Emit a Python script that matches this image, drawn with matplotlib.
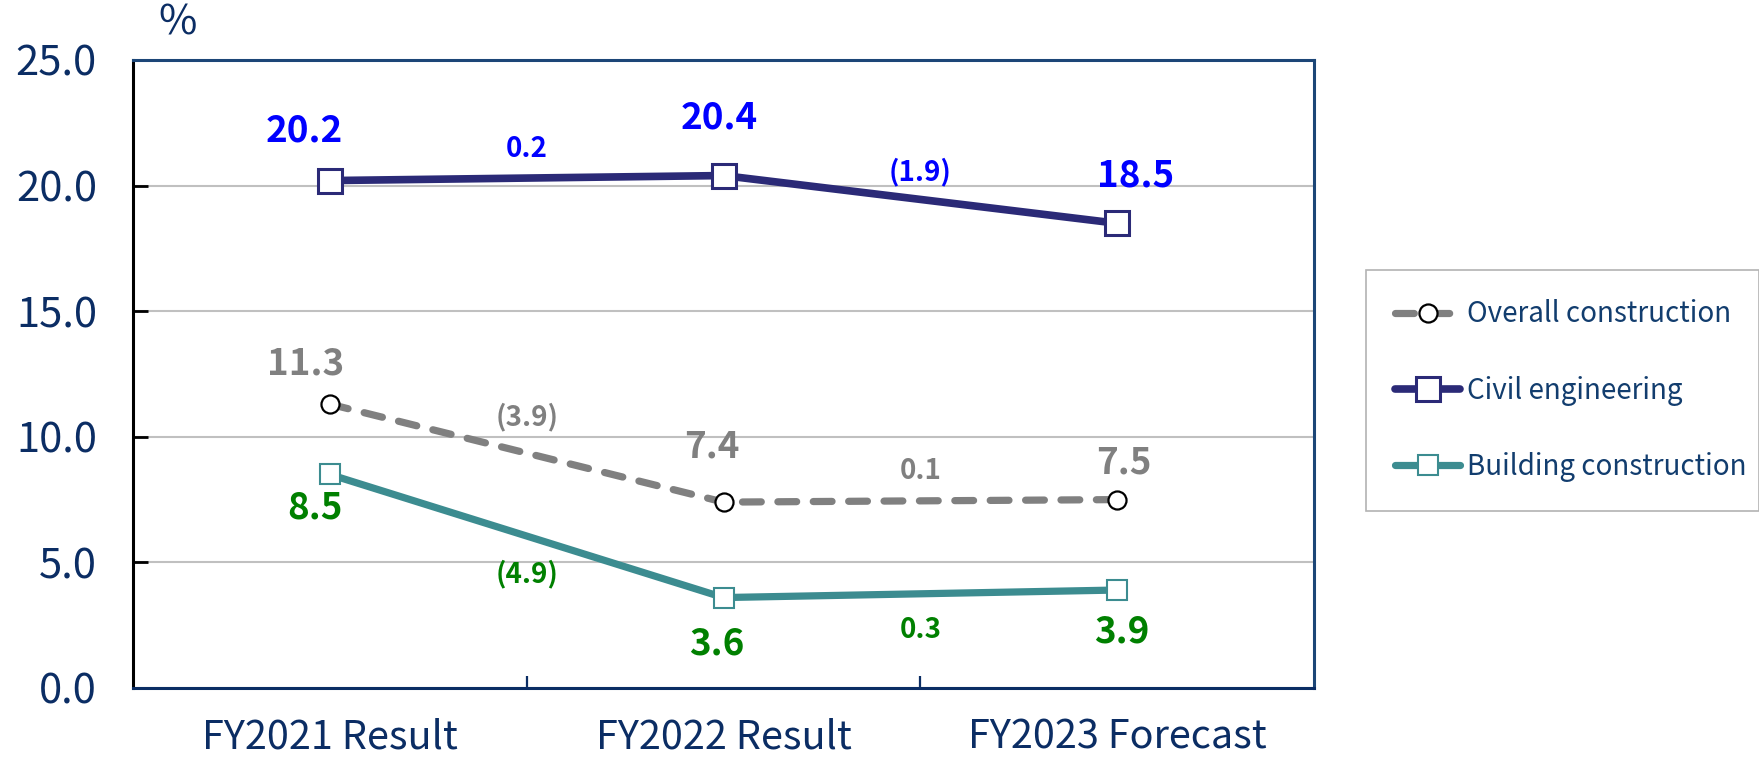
import matplotlib
matplotlib.use("Agg")
import matplotlib.pyplot as plt

plt.rcParams['font.family'] = ['Noto Sans CJK JP', 'DejaVu Sans']

categories = ["FY2021 Result", "FY2022 Result", "FY2023 Forecast"]
overall = [11.3, 7.4, 7.5]
civil = [20.2, 20.4, 18.5]
building = [8.5, 3.6, 3.9]
overall_delta = ["(3.9)", "0.1"]
civil_delta = ["0.2", "(1.9)"]
building_delta = ["(4.9)", "0.3"]
yticks = [0, 5, 10, 15, 20, 25]

NAVY_TXT = "#0b2d64"
CIVIL = "#2b2a77"
GRAY = "#808080"
TEAL = "#3c8c90"

fig = plt.figure(figsize=(17.59, 7.57), dpi=100)
ax = fig.add_axes([133/1759, 1-688/757, (1314-133)/1759, (688-60)/757])

x = [i + 0.5 for i in range(len(categories))]

ax.plot(x, overall, color=GRAY, lw=5.2, dashes=(2.6, 2.3), dash_capstyle='round',
        marker='o', ms=13, mfc='white', mec='black', mew=1.6, zorder=3,
        label="Overall construction")
ax.plot(x, civil, color=CIVIL, lw=5.5, solid_capstyle='round',
        marker='s', ms=17, mfc='white', mec=CIVIL, mew=2.2, zorder=4,
        label="Civil engineering")
ax.plot(x, building, color=TEAL, lw=5.2, solid_capstyle='round',
        marker='s', ms=14, mfc='white', mec=TEAL, mew=1.5, zorder=4,
        label="Building construction")

ax.set_xlim(0, 3)
ax.set_ylim(0, 25)
ax.set_yticks(yticks)
ax.set_yticklabels([f"{v:.1f}" for v in yticks])
ax.set_xticks(x)
ax.set_xticklabels(categories)
ax.set_xticks([1, 2], minor=True)
ax.tick_params(axis='x', which='major', length=0, pad=21, labelsize=28.5, labelcolor=NAVY_TXT)
ax.tick_params(axis='x', which='minor', direction='in', length=9, width=1.6, color=NAVY_TXT)
ax.tick_params(axis='y', direction='in', length=11, width=2, color='black',
               labelsize=30, labelcolor=NAVY_TXT, pad=26)
ax.grid(axis='y', color='#c0c0c0', lw=1.5, zorder=0)
ax.set_axisbelow(True)

ax.spines['left'].set_color('black')
ax.spines['left'].set_linewidth(2.2)
ax.spines['bottom'].set_color('#0b2d64')
ax.spines['bottom'].set_linewidth(2.2)
for s in ['top', 'right']:
    ax.spines[s].set_color('#1c4677')
    ax.spines[s].set_linewidth(2.2)

fig.text(178/1759, 1-23/757, "%", ha='center', va='center', fontsize=30, color=NAVY_TXT)

def vlabels(vals, offs, color):
    for xi, v, (dx, dy) in zip(x, vals, offs):
        ax.annotate(f"{v:.1f}", (xi, v), xytext=(dx, -dy), textcoords='offset pixels',
                    ha='center', va='center', fontsize=26.5, fontweight='bold', color=color,
                    zorder=6)

vlabels(civil, [(-26, -50), (-4, -58), (18, -47)], '#0000ff')
vlabels(overall, [(-24, -40), (-12, -55), (7, -37)], GRAY)
vlabels(building, [(-15, 34), (-7, 46), (5, 42)], '#008000')

def dlabels(vals, labels, offs, color):
    for i, (lab, dy) in enumerate(zip(labels, offs)):
        xm = (x[i] + x[i+1]) / 2
        ym = (vals[i] + vals[i+1]) / 2
        ax.annotate(lab, (xm, ym), xytext=(0, -dy), textcoords='offset pixels',
                    ha='center', va='center', fontsize=20, fontweight='bold', color=color,
                    zorder=6)

dlabels(civil, civil_delta, [-29, -27], '#0000ff')
dlabels(overall, overall_delta, [-36, -30], GRAY)
dlabels(building, building_delta, [38, 36], '#008000')

leg = fig.legend(loc='upper left',
                 bbox_to_anchor=(1366/1759, 1-271/757, (1759-1366)/1759, 0.001),
                 mode='expand', borderaxespad=0, frameon=True, fancybox=False,
                 fontsize=20, labelspacing=1.66, handlelength=2.35, handletextpad=0.25,
                 borderpad=1.05)
leg.get_frame().set_edgecolor('#a0a0a0')
leg.get_frame().set_linewidth(1.2)
for t in leg.get_texts():
    t.set_color('#123d6e')

fig.savefig("out.png", dpi=100)
